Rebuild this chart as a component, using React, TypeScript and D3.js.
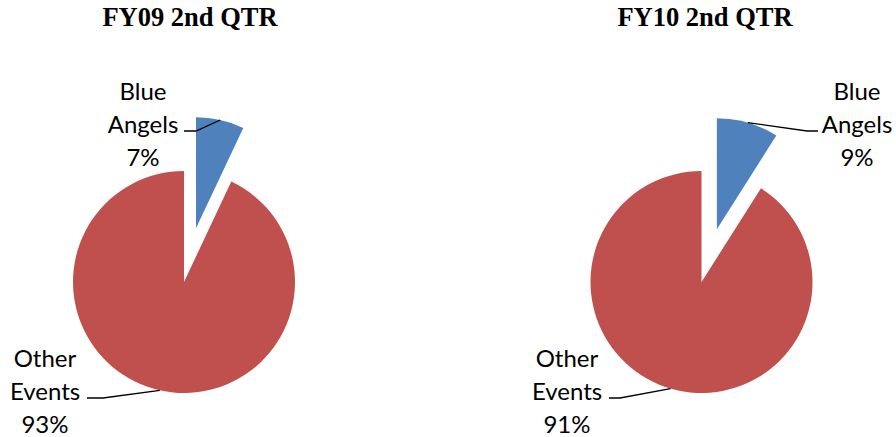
import * as d3 from "d3";

const titles = ["FY09 2nd QTR", "FY10 2nd QTR"];
const categories = ["Blue Angels", "Other Events"];
const blueAngels = [7, 9];
const otherEvents = [93, 91];

const W = 896;
const H = 437;
const colors = ["#4F81BD", "#C0504D"];

// layout per pie: center, title x, label blocks and leader elbows
const layouts = [
  {
    cx: 184,
    titleX: 190,
    labels: [
      { x: 143, y: 100, elbow: [196, 131], end: [184, 131] },
      { x: 45, y: 367, elbow: [103, 398], end: [87, 398] },
    ],
  },
  {
    cx: 701.5,
    titleX: 705,
    labels: [
      { x: 857, y: 100, elbow: [807, 131], end: [818, 131] },
      { x: 567, y: 367, elbow: [620, 398], end: [609, 398] },
    ],
  },
];

const cy = 282;
const R = 111;
const explode = 55;
const lineH = 33;

export default function App() {
  const pie = d3
    .pie<number>()
    .sort(null)
    .startAngle(0)
    .endAngle(2 * Math.PI);
  const arc = d3.arc<d3.PieArcDatum<number>>().innerRadius(0).outerRadius(R);

  return (
    <svg
      width={W}
      height={H}
      style={{ position: "absolute", left: 0, top: 0, background: "#fff" }}
    >
      {titles.map((t, i) => {
        const lay = layouts[i];
        const arcs = pie([blueAngels[i], otherEvents[i]]);
        return (
          <g key={t}>
            <text
              x={lay.titleX}
              y={26}
              textAnchor="middle"
              fontFamily="'Liberation Serif', 'Times New Roman', serif"
              fontWeight="bold"
              fontSize={26.5}
              fill="#000"
            >
              {t}
            </text>
            {arcs.map((a, j) => {
              const mid = (a.startAngle + a.endAngle) / 2;
              const off = j === 0 ? explode : 0;
              const ox = lay.cx + Math.sin(mid) * off;
              const oy = cy - Math.cos(mid) * off;
              const px = ox + Math.sin(mid) * R;
              const py = oy - Math.cos(mid) * R;
              const lb = lay.labels[j];
              const pct = Math.round((a.value / d3.sum(arcs, d => d.value)) * 100);
              const words = categories[j].split(" ");
              return (
                <g key={j}>
                  <path d={arc(a) || ""} transform={`translate(${ox},${oy})`} fill={colors[j]} />
                  <polyline
                    points={`${px},${py} ${lb.elbow[0]},${lb.elbow[1]} ${lb.end[0]},${lb.end[1]}`}
                    fill="none"
                    stroke="#000"
                    strokeWidth={1.3}
                  />
                  {[...words, `${pct}%`].map((w, k) => (
                    <text
                      key={k}
                      x={lb.x}
                      y={lb.y + k * lineH}
                      textAnchor="middle"
                      fontFamily="Lato, 'Open Sans', sans-serif"
                      fontSize={24}
                      fill="#000"
                    >
                      {w}
                    </text>
                  ))}
                </g>
              );
            })}
          </g>
        );
      })}
    </svg>
  );
}
